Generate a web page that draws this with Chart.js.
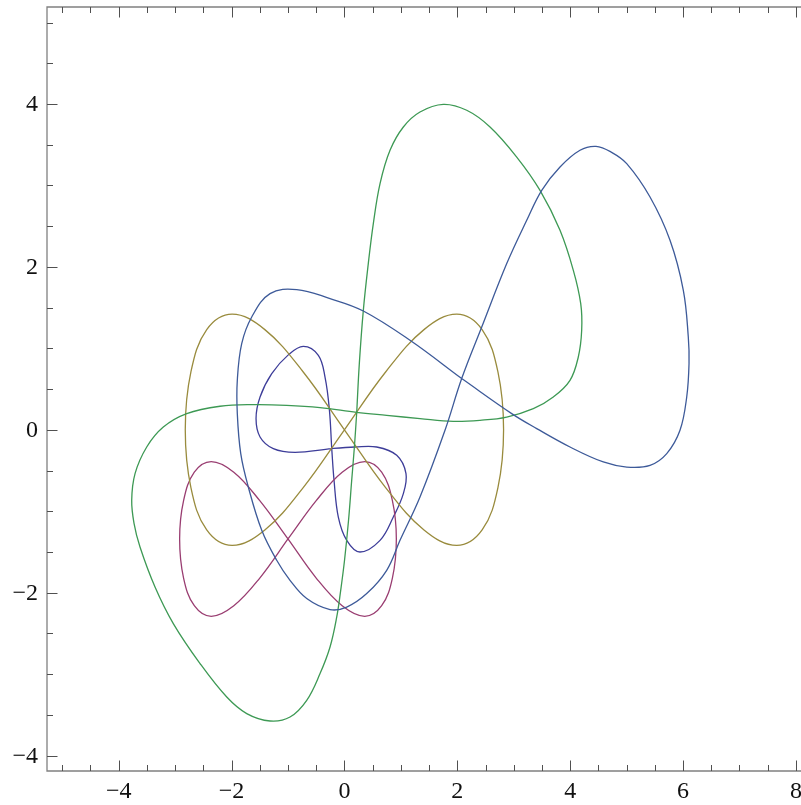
<!DOCTYPE html>
<html>
<head>
<meta charset="utf-8">
<script src="https://cdn.jsdelivr.net/npm/chart.js@4/dist/chart.umd.min.js"></script>
<style>
  html, body { margin: 0; padding: 0; background: #fff; }
  canvas { display: block; }
</style>
</head>
<body>
<canvas id="curves" width="801" height="805"></canvas>
<script>
// axis ranges and ticks
const xRange = [-5.27, 8.09];
const yRange = [-4.189, 5.191];
const xMajorTicks = [-4, -2, 0, 2, 4, 6, 8];
const yMajorTicks = [-4, -2, 0, 2, 4];
const xMinorTicks = [-5, -4.5, -3.5, -3, -2.5, -1.5, -1, -0.5, 0.5, 1, 1.5, 2.5, 3, 3.5, 4.5, 5, 5.5, 6.5, 7, 7.5];
const yMinorTicks = [-3.5, -3, -2.5, -1.5, -1, -0.5, 0.5, 1, 1.5, 2.5, 3, 3.5, 4.5, 5];

// curve points
const navyX = [-0.225, -0.268, -0.344, -0.462, -0.728, -0.994, -1.288, -1.495, -1.566, -1.495, -1.260, -0.875, -0.225, 0.188, 0.572, 0.927, 1.091, 1.044, 0.866, 0.631, 0.276, 0.041, -0.108, -0.184, -0.225];
const navyY = [-0.231, 0.260, 0.648, 0.915, 1.025, 0.920, 0.690, 0.403, 0.138, -0.088, -0.231, -0.276, -0.231, -0.211, -0.211, -0.313, -0.538, -0.783, -1.071, -1.357, -1.500, -1.357, -1.071, -0.620, -0.231];

const magentaX = [-1, -0.50, -0.04, 0.36, 0.66, 0.85, 0.92, 0.85, 0.66, 0.36, -0.04, -0.50, -1, -1.50, -1.96, -2.36, -2.66, -2.85, -2.92, -2.85, -2.66, -2.36, -1.96, -1.50, -1];
const magentaY = [-1.34, -0.87, -0.52, -0.39, -0.52, -0.87, -1.34, -1.82, -2.16, -2.29, -2.16, -1.82, -1.34, -0.87, -0.52, -0.39, -0.52, -0.87, -1.34, -1.82, -2.16, -2.29, -2.16, -1.82, -1.34];

const goldX = [0, 0.73, 1.41, 1.99, 2.44, 2.72, 2.82, 2.72, 2.44, 1.99, 1.41, 0.73, 0, -0.73, -1.41, -1.99, -2.44, -2.72, -2.82, -2.72, -2.44, -1.99, -1.41, -0.73, 0];
const goldY = [0, 0.71, 1.23, 1.42, 1.23, 0.71, 0, -0.71, -1.23, -1.42, -1.23, -0.71, 0, 0.71, 1.23, 1.42, 1.23, 0.71, 0, -0.71, -1.23, -1.42, -1.23, -0.71, 0];

const greenX = [0.218, 0.264, 0.335, 0.423, 0.512, 0.631, 0.808, 1.044, 1.339, 1.752, 2.167, 2.580, 3.053, 3.466, 3.820, 4.056, 4.187, 4.204, 4.144, 3.997, 3.701, 3.347, 2.876, 2.403, 1.929, 1.339, 0.749, 0.218, -0.432, -1.022, -1.614, -2.204, -2.794, -3.209, -3.503, -3.710, -3.769, -3.728, -3.622, -3.356, -3.032, -2.558, -2.085, -1.731, -1.318, -0.964, -0.668, -0.432, -0.255, -0.136, -0.066, 0.002, 0.073, 0.129, 0.179, 0.218];
const greenY = [0.215, 0.813, 1.467, 2.041, 2.532, 3.023, 3.432, 3.718, 3.902, 3.996, 3.923, 3.718, 3.349, 2.940, 2.449, 1.958, 1.549, 1.222, 0.894, 0.608, 0.403, 0.260, 0.157, 0.117, 0.104, 0.138, 0.178, 0.215, 0.273, 0.301, 0.309, 0.289, 0.199, 0.034, -0.211, -0.538, -0.866, -1.148, -1.439, -1.930, -2.379, -2.870, -3.281, -3.484, -3.575, -3.526, -3.321, -2.993, -2.667, -2.298, -1.971, -1.602, -1.111, -0.620, -0.190, 0.215];

const blueX = [2.078, 1.162, 0.335, -0.255, -0.845, -1.318, -1.642, -1.820, -1.898, -1.898, -1.837, -1.703, -1.465, -1.200, -0.964, -0.668, -0.255, 0.041, 0.395, 0.749, 0.985, 1.339, 1.782, 2.078, 2.433, 2.876, 3.230, 3.496, 3.820, 4.174, 4.458, 4.724, 5.002, 5.415, 5.769, 6.005, 6.093, 6.106, 6.065, 5.946, 5.711, 5.415, 5.002, 4.587, 3.997, 3.407, 2.964, 2.078];
const blueY = [0.629, 1.099, 1.459, 1.611, 1.721, 1.672, 1.385, 1.058, 0.608, 0.199, -0.292, -0.702, -1.234, -1.602, -1.848, -2.072, -2.207, -2.176, -2.011, -1.725, -1.357, -0.825, -0.006, 0.629, 1.262, 2.041, 2.572, 2.940, 3.227, 3.432, 3.480, 3.411, 3.268, 2.858, 2.327, 1.713, 1.139, 0.813, 0.403, -0.006, -0.292, -0.436, -0.457, -0.395, -0.211, 0.015, 0.199, 0.629];

function toPoints(xs, ys) {
  return xs.map((x, i) => ({ x: x, y: ys[i] }));
}

function curve(xs, ys, color, order) {
  return {
    data: toPoints(xs, ys),
    borderColor: color,
    borderWidth: 1.3,
    pointRadius: 0,
    showLine: true,
    tension: 0.38,
    fill: false,
    order: order
  };
}

function label(v) {
  return v < 0 ? "\u2212" + Math.abs(v) : String(v);
}

const frameTicks = {
  id: "frameTicks",
  afterDraw(chart) {
    const ctx = chart.ctx;
    const area = chart.chartArea;
    const xs = chart.scales.x;
    const ys = chart.scales.y;

    ctx.save();
    ctx.strokeStyle = "#808080";
    ctx.lineWidth = 1.3;
    ctx.beginPath();
    ctx.moveTo(area.right + 2, area.top);
    ctx.lineTo(area.left, area.top);
    ctx.lineTo(area.left, area.bottom);
    ctx.lineTo(area.right + 2, area.bottom);
    ctx.stroke();

    ctx.strokeStyle = "#505050";
    ctx.lineWidth = 1;
    ctx.beginPath();
    const xTick = (v, len) => {
      const px = Math.round(xs.getPixelForValue(v)) + 0.5;
      ctx.moveTo(px, area.bottom);
      ctx.lineTo(px, area.bottom - len);
      ctx.moveTo(px, area.top);
      ctx.lineTo(px, area.top + len);
    };
    const yTick = (v, len) => {
      const py = Math.round(ys.getPixelForValue(v)) + 0.5;
      ctx.moveTo(area.left, py);
      ctx.lineTo(area.left + len, py);
    };
    xMajorTicks.forEach((v) => xTick(v, 10.5));
    xMinorTicks.forEach((v) => xTick(v, 6));
    yMajorTicks.forEach((v) => yTick(v, 10.5));
    yMinorTicks.forEach((v) => yTick(v, 6));
    ctx.stroke();

    ctx.fillStyle = "#111";
    ctx.font = "24px 'Liberation Serif', 'Times New Roman', serif";
    ctx.textAlign = "center";
    ctx.textBaseline = "middle";
    xMajorTicks.forEach((v) => {
      ctx.fillText(label(v), xs.getPixelForValue(v), area.bottom + 21);
    });
    ctx.textAlign = "right";
    yMajorTicks.forEach((v) => {
      ctx.fillText(label(v), area.left - 9, ys.getPixelForValue(v) + 1);
    });
    ctx.restore();
  }
};

new Chart(document.getElementById("curves"), {
  type: "scatter",
  data: {
    datasets: [
      curve(navyX, navyY, "#3d3d99", 5),
      curve(magentaX, magentaY, "#993d71", 4),
      curve(goldX, goldY, "#998b3d", 3),
      curve(greenX, greenY, "#3d9954", 2),
      curve(blueX, blueY, "#3d5a99", 1)
    ]
  },
  options: {
    responsive: false,
    animation: false,
    layout: { padding: { left: 47, top: 7, right: 0, bottom: 34 } },
    plugins: { legend: { display: false }, tooltip: { enabled: false } },
    scales: {
      x: { type: "linear", min: xRange[0], max: xRange[1], display: false },
      y: { type: "linear", min: yRange[0], max: yRange[1], display: false }
    }
  },
  plugins: [frameTicks]
});
</script>
</body>
</html>
